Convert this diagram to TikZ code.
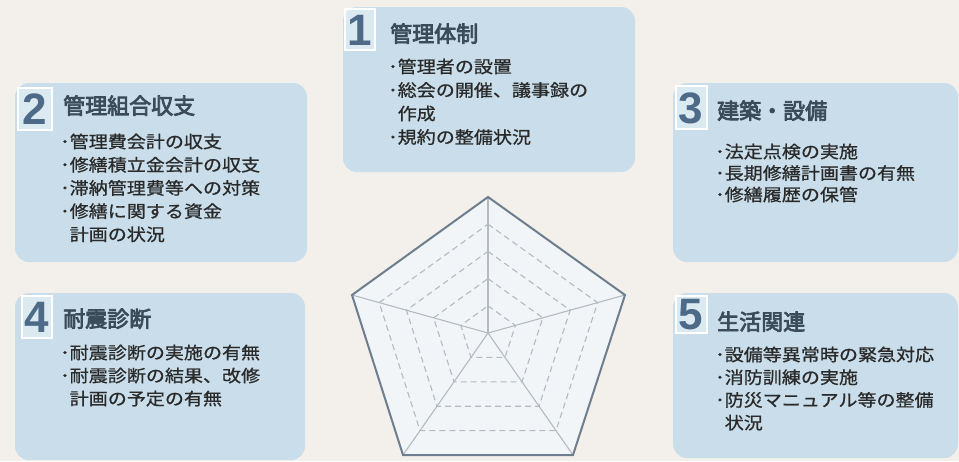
\documentclass[tikz,border=0pt]{standalone}
\usepackage{fontspec}
\setmainfont[AutoFakeBold=2.5]{Noto Sans CJK JP}
\newfontfamily\bodyfont[FakeStretch=1.12,FakeBold=0.8]{Noto Sans CJK JP}
\newfontfamily\titlefont[FakeBold=3.5]{Noto Sans CJK JP}
\newfontfamily\digitfont{Liberation Sans}
\usetikzlibrary{calc}
\definecolor{bgc}{HTML}{F3F0EB}
\definecolor{boxc}{HTML}{C9DEEA}
\definecolor{titlec}{HTML}{3B4B5A}
\definecolor{textc}{HTML}{2A2A2A}
\definecolor{digitc}{HTML}{4D6A88}
\definecolor{pentfill}{HTML}{F2F5F8}
\definecolor{pentline}{HTML}{6E7E8E}
\definecolor{gridc}{HTML}{B4BAC0}
\tikzset{
  panel/.style={fill=boxc, draw=none, rounded corners=14pt},
  badge/.style={draw=white, line width=2pt, fill=white, fill opacity=0.35},
  digit/.style={font=\digitfont\bfseries\fontsize{44}{44}\selectfont, text=digitc, inner sep=0pt},
  ttl/.style={font=\titlefont\fontsize{22}{22}\selectfont, text=titlec, anchor=base west, inner sep=0pt},
  body/.style={font=\bodyfont\fontsize{17}{20}\selectfont, text=textc, anchor=base west, inner sep=0pt},
  spoke/.style={draw=gridc, line width=1.1pt},
  ring/.style={draw=gridc, line width=1.1pt, dash pattern=on 6pt off 4pt},
}
\newcommand{\ind}{\phantom{･}}
\begin{document}
\begin{tikzpicture}[x=1pt,y=-1pt]
\fill[bgc] (0,0) rectangle (959,461);
\useasboundingbox (0,0) rectangle (959,461);

% panels
\fill[panel] (343,7) rectangle (635,172);
\fill[panel] (15,83) rectangle (307,262);
\fill[panel] (673,83) rectangle (958,262);
\fill[panel] (15,293) rectangle (305,460);
\fill[panel] (673,293) rectangle (958,458);

% badges
\draw[badge] (345,9) rectangle (375,50);
\node[digit] (d1) at (360,30) {1};
\draw[badge] (18,88) rectangle (52,130);
\node[digit] (d2) at (35,109) {2};
\draw[badge] (676,86) rectangle (707,129);
\node[digit] (d3) at (691,108) {3};
\draw[badge] (22,296) rectangle (52,338);
\node[digit] (d4) at (37,317) {4};
\draw[badge] (676,296) rectangle (707,333);
\node[digit] (d5) at (691,315) {5};

% titles
\node[ttl] (t1) at (390,42) {管理体制};
\node[ttl] (t2) at (63,114) {管理組合収支};
\node[ttl] (t3) at (717,119) {建築・設備};
\node[ttl] (t4) at (63,327) {耐震診断};
\node[ttl] (t5) at (717,330) {生活関連};

% bodies
\foreach [count=\i] \t in {{･管理者の設置},{･総会の開催、議事録の},{\ind 作成},{･規約の整備状況}}
  \node[body] (b1-\i) at (388,{73+(\i-1)*23.5}) {\t};
\foreach [count=\i] \t in {{･管理費会計の収支},{･修繕積立金会計の収支},{･滞納管理費等への対策},{･修繕に関する資金},{\ind 計画の状況}}
  \node[body] (b2-\i) at (60,{148+(\i-1)*23.2}) {\t};
\foreach [count=\i] \t in {{･法定点検の実施},{･長期修繕計画書の有無},{･修繕履歴の保管}}
  \node[body] (b3-\i) at (715,{158+(\i-1)*21.5}) {\t};
\foreach [count=\i] \t in {{･耐震診断の実施の有無},{･耐震診断の結果、改修},{\ind 計画の予定の有無}}
  \node[body] (b4-\i) at (60,{359+(\i-1)*23}) {\t};
\foreach [count=\i] \t in {{･設備等異常時の緊急対応},{･消防訓練の実施},{･防災マニュアル等の整備},{\ind 状況}}
  \node[body] (b5-\i) at (715,{361+(\i-1)*22.7}) {\t};

% radar pentagon
\coordinate (c) at (488,333);
\coordinate (p1) at (488,197);
\coordinate (p2) at (625,295);
\coordinate (p3) at (573,455);
\coordinate (p4) at (403,455);
\coordinate (p5) at (352,295);
\fill[pentfill] (p1) -- (p2) -- (p3) -- (p4) -- (p5) -- cycle;
\foreach \f in {0.2,0.4,0.6,0.8}{
  \draw[ring] ($(c)!\f!(p1)$) -- ($(c)!\f!(p2)$) -- ($(c)!\f!(p3)$) -- ($(c)!\f!(p4)$) -- ($(c)!\f!(p5)$) -- cycle;
}
\foreach \p in {p1,p2,p3,p4,p5}{
  \draw[spoke] (c) -- (\p);
}
\draw[draw=pentline, line width=2pt, line join=miter] (p1) -- (p2) -- (p3) -- (p4) -- (p5) -- cycle;
\end{tikzpicture}
\end{document}
